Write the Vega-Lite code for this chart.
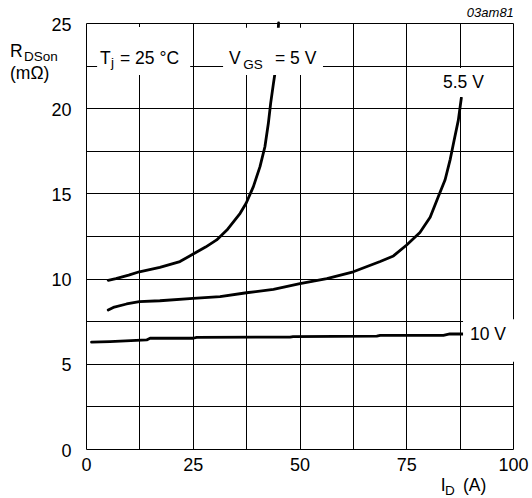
{
  "$schema": "https://vega.github.io/schema/vega-lite/v6.json",
  "width": 427,
  "height": 426,
  "autosize": {"type": "none"},
  "padding": {"left": 86, "top": 23, "right": 19, "bottom": 49},
  "background": "white",
  "config": {
    "view": {"stroke": null},
    "axis": {
      "domain": false,
      "ticks": false,
      "grid": true,
      "gridColor": "#000",
      "gridOpacity": 1,
      "gridWidth": 1,
      "labelColor": "#000",
      "labelFont": "Liberation Sans",
      "labelFontSize": 18,
      "labelOverlap": false,
      "labelFlush": false
    },
    "text": {"font": "Liberation Sans", "color": "#000"}
  },
  "datasets": {
    "curves": [
      {"series": "5 V", "x": 5.2, "y": 9.9},
      {"series": "5 V", "x": 7.0, "y": 10.0},
      {"series": "5 V", "x": 10.0, "y": 10.2},
      {"series": "5 V", "x": 12.5, "y": 10.4},
      {"series": "5 V", "x": 17.3, "y": 10.66},
      {"series": "5 V", "x": 22.0, "y": 11.0},
      {"series": "5 V", "x": 25.1, "y": 11.44},
      {"series": "5 V", "x": 28.0, "y": 11.85},
      {"series": "5 V", "x": 30.6, "y": 12.27},
      {"series": "5 V", "x": 33.0, "y": 12.85},
      {"series": "5 V", "x": 36.1, "y": 13.83},
      {"series": "5 V", "x": 37.5, "y": 14.42},
      {"series": "5 V", "x": 39.2, "y": 15.4},
      {"series": "5 V", "x": 40.75, "y": 16.57},
      {"series": "5 V", "x": 41.9, "y": 17.74},
      {"series": "5 V", "x": 42.7, "y": 19.1},
      {"series": "5 V", "x": 43.25, "y": 20.3},
      {"series": "5 V", "x": 43.9, "y": 21.46},
      {"series": "5 V", "x": 44.4, "y": 22.3},
      {"series": "5 V", "x": 44.8, "y": 23.6},
      {"series": "5 V", "x": 45.1, "y": 25.0},
      {"series": "5.5 V", "x": 5.2, "y": 8.16},
      {"series": "5.5 V", "x": 6.4, "y": 8.31},
      {"series": "5.5 V", "x": 9.5, "y": 8.51},
      {"series": "5.5 V", "x": 12.5, "y": 8.65},
      {"series": "5.5 V", "x": 17.3, "y": 8.7},
      {"series": "5.5 V", "x": 25.1, "y": 8.84},
      {"series": "5.5 V", "x": 31.4, "y": 8.94},
      {"series": "5.5 V", "x": 37.6, "y": 9.17},
      {"series": "5.5 V", "x": 43.9, "y": 9.37},
      {"series": "5.5 V", "x": 50.1, "y": 9.7},
      {"series": "5.5 V", "x": 56.4, "y": 10.0},
      {"series": "5.5 V", "x": 62.6, "y": 10.4},
      {"series": "5.5 V", "x": 68.9, "y": 11.0},
      {"series": "5.5 V", "x": 72.0, "y": 11.33},
      {"series": "5.5 V", "x": 75.1, "y": 11.97},
      {"series": "5.5 V", "x": 78.2, "y": 12.7},
      {"series": "5.5 V", "x": 80.6, "y": 13.6},
      {"series": "5.5 V", "x": 82.5, "y": 14.8},
      {"series": "5.5 V", "x": 84.1, "y": 15.8},
      {"series": "5.5 V", "x": 85.3, "y": 17.0},
      {"series": "5.5 V", "x": 86.2, "y": 18.1},
      {"series": "5.5 V", "x": 87.2, "y": 19.3},
      {"series": "5.5 V", "x": 87.9, "y": 20.6},
      {"series": "10 V", "x": 1.3, "y": 6.27},
      {"series": "10 V", "x": 5.6, "y": 6.3},
      {"series": "10 V", "x": 14.2, "y": 6.4},
      {"series": "10 V", "x": 15.0, "y": 6.5},
      {"series": "10 V", "x": 25.1, "y": 6.5},
      {"series": "10 V", "x": 25.9, "y": 6.55},
      {"series": "10 V", "x": 47.8, "y": 6.57},
      {"series": "10 V", "x": 48.5, "y": 6.6},
      {"series": "10 V", "x": 68.1, "y": 6.63},
      {"series": "10 V", "x": 68.9, "y": 6.67},
      {"series": "10 V", "x": 83.7, "y": 6.67},
      {"series": "10 V", "x": 85.2, "y": 6.75},
      {"series": "10 V", "x": 88.4, "y": 6.75}
    ],
    "boxes": [
      {"x": 2.6, "x2": 24.4, "y": 21.95, "y2": 24.76},
      {"x": 32.1, "x2": 55.5, "y": 21.95, "y2": 24.72},
      {"x": 83.1, "x2": 93.7, "y": 20.66, "y2": 22.36},
      {"x": 88.3, "x2": 101.5, "y": 5.12, "y2": 7.62}
    ],
    "bigText": [
      {"x": -17.8, "y": 23.0, "t": "R"},
      {"x": -17.8, "y": 21.71, "t": "(mΩ)"},
      {"x": 3.28, "y": 22.62, "t": "T"},
      {"x": 7.96, "y": 22.62, "t": "= 25 °C"},
      {"x": 33.5, "y": 22.62, "t": "V"},
      {"x": 44.26, "y": 22.62, "t": "= 5 V"},
      {"x": 83.6, "y": 21.19, "t": "5.5 V"},
      {"x": 89.93, "y": 6.4, "t": "10 V"},
      {"x": 83.1, "y": -2.47, "t": "I"},
      {"x": 88.3, "y": -2.47, "t": "(A)"}
    ],
    "subText": [
      {"x": -14.5, "y": 22.77, "t": "DSon"},
      {"x": 5.85, "y": 22.42, "t": "j"},
      {"x": 36.8, "y": 22.3, "t": "GS"},
      {"x": 84.07, "y": -2.7, "t": "D"}
    ],
    "code": [
      {"x": 100.2, "y": 25.35, "t": "03am81"}
    ]
  },
  "layer": [
    {
      "data": {"name": "curves"},
      "mark": {"type": "line", "color": "#000", "strokeWidth": 2.8, "strokeJoin": "round", "strokeCap": "round"},
      "encoding": {
        "x": {"field": "x", "type": "quantitative",
              "scale": {"domain": [0, 100], "nice": false, "zero": false},
              "axis": {"title": null, "values": [0, 12.5, 25, 37.5, 50, 62.5, 75, 87.5, 100],
                       "labelExpr": "datum.value % 25 == 0 ? datum.label : ''", "labelPadding": 7}},
        "y": {"field": "y", "type": "quantitative",
              "scale": {"domain": [0, 25], "nice": false, "zero": false},
              "axis": {"title": null, "values": [0, 2.5, 5, 7.5, 10, 12.5, 15, 17.5, 20, 22.5, 25],
                       "labelExpr": "datum.value % 5 == 0 ? datum.label : ''", "labelPadding": 15, "labelOffset": 2}},
        "detail": {"field": "series", "type": "nominal"}
      }
    },
    {
      "data": {"name": "boxes"},
      "mark": {"type": "rect", "color": "white"},
      "encoding": {
        "x": {"field": "x", "type": "quantitative", "scale": {"domain": [0, 100], "nice": false, "zero": false},
              "axis": {"title": null, "values": [0, 12.5, 25, 37.5, 50, 62.5, 75, 87.5, 100],
                       "labelExpr": "datum.value % 25 == 0 ? datum.label : ''", "labelPadding": 7}},
        "x2": {"field": "x2"},
        "y": {"field": "y", "type": "quantitative", "scale": {"domain": [0, 25], "nice": false, "zero": false},
              "axis": {"title": null, "values": [0, 2.5, 5, 7.5, 10, 12.5, 15, 17.5, 20, 22.5, 25],
                       "labelExpr": "datum.value % 5 == 0 ? datum.label : ''", "labelPadding": 15, "labelOffset": 2}},
        "y2": {"field": "y2"}
      }
    },
    {
      "data": {"name": "bigText"},
      "mark": {"type": "text", "align": "left", "baseline": "alphabetic", "fontSize": 17.5, "color": "#000"},
      "encoding": {
        "x": {"field": "x", "type": "quantitative", "scale": {"domain": [0, 100], "nice": false, "zero": false},
              "axis": {"title": null, "values": [0, 12.5, 25, 37.5, 50, 62.5, 75, 87.5, 100],
                       "labelExpr": "datum.value % 25 == 0 ? datum.label : ''", "labelPadding": 7}},
        "y": {"field": "y", "type": "quantitative", "scale": {"domain": [0, 25], "nice": false, "zero": false},
              "axis": {"title": null, "values": [0, 2.5, 5, 7.5, 10, 12.5, 15, 17.5, 20, 22.5, 25],
                       "labelExpr": "datum.value % 5 == 0 ? datum.label : ''", "labelPadding": 15, "labelOffset": 2}},
        "text": {"field": "t"}
      }
    },
    {
      "data": {"name": "subText"},
      "mark": {"type": "text", "align": "left", "baseline": "alphabetic", "fontSize": 13.5, "color": "#000"},
      "encoding": {
        "x": {"field": "x", "type": "quantitative", "scale": {"domain": [0, 100], "nice": false, "zero": false},
              "axis": {"title": null, "values": [0, 12.5, 25, 37.5, 50, 62.5, 75, 87.5, 100],
                       "labelExpr": "datum.value % 25 == 0 ? datum.label : ''", "labelPadding": 7}},
        "y": {"field": "y", "type": "quantitative", "scale": {"domain": [0, 25], "nice": false, "zero": false},
              "axis": {"title": null, "values": [0, 2.5, 5, 7.5, 10, 12.5, 15, 17.5, 20, 22.5, 25],
                       "labelExpr": "datum.value % 5 == 0 ? datum.label : ''", "labelPadding": 15, "labelOffset": 2}},
        "text": {"field": "t"}
      }
    },
    {
      "data": {"name": "code"},
      "mark": {"type": "text", "align": "right", "baseline": "alphabetic", "fontSize": 13, "fontStyle": "italic", "color": "#000"},
      "encoding": {
        "x": {"field": "x", "type": "quantitative", "scale": {"domain": [0, 100], "nice": false, "zero": false},
              "axis": {"title": null, "values": [0, 12.5, 25, 37.5, 50, 62.5, 75, 87.5, 100],
                       "labelExpr": "datum.value % 25 == 0 ? datum.label : ''", "labelPadding": 7}},
        "y": {"field": "y", "type": "quantitative", "scale": {"domain": [0, 25], "nice": false, "zero": false},
              "axis": {"title": null, "values": [0, 2.5, 5, 7.5, 10, 12.5, 15, 17.5, 20, 22.5, 25],
                       "labelExpr": "datum.value % 5 == 0 ? datum.label : ''", "labelPadding": 15, "labelOffset": 2}},
        "text": {"field": "t"}
      }
    }
  ]
}
